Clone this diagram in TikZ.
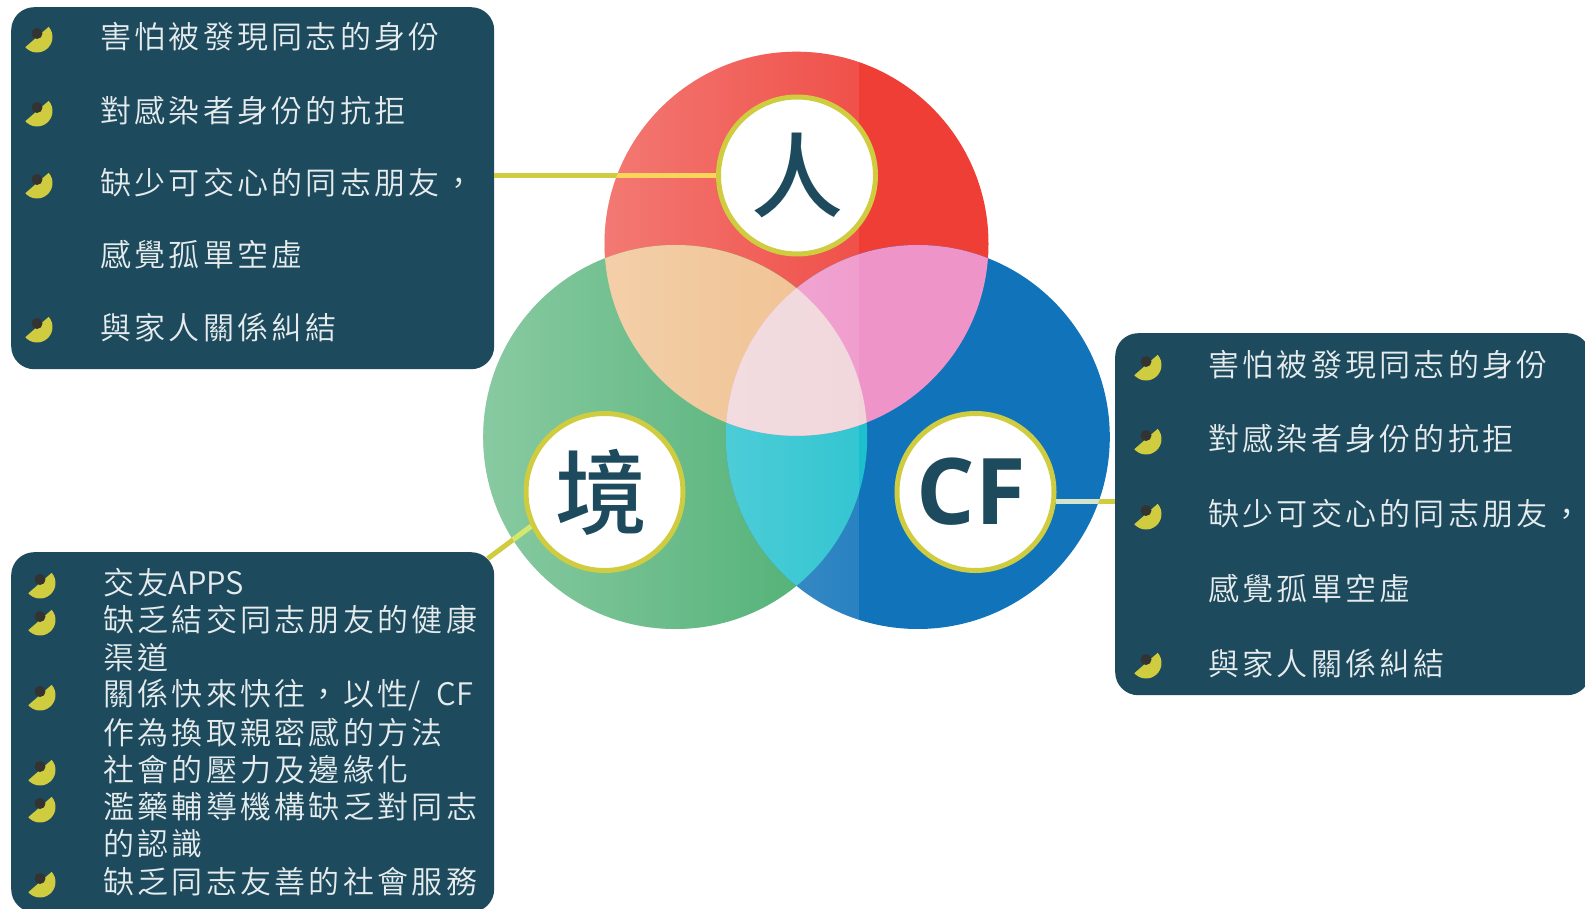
\documentclass[tikz,border=0pt]{standalone}
\usepackage{fontspec}
\usepackage{tikz}
\usetikzlibrary{fadings}
\IfFontExistsTF{Noto Sans CJK TC DemiLight}
  {\newfontfamily\cjk{Noto Sans CJK TC DemiLight}[LetterSpace=10.6]}
  {\newfontfamily\cjk{Noto Sans CJK TC}[LetterSpace=10.6]}
\IfFontExistsTF{Noto Sans CJK TC Medium}
  {\newfontfamily\cjkhub{Noto Sans CJK TC Medium}}
  {\newfontfamily\cjkhub{Noto Sans CJK TC}[FakeBold=1.5]}
\newfontfamily\latinhub{Open Sans}
\definecolor{deepteal}{HTML}{1D4A5C}
\definecolor{lemon}{HTML}{D0CC3F}
\definecolor{paper}{HTML}{E6ECEE}
\definecolor{inkdot}{HTML}{333333}
\definecolor{redbase}{HTML}{EF3E36}
\definecolor{greenbase}{RGB}{56,166,98}
\definecolor{bluebase}{HTML}{1174BB}
\definecolor{orangemix}{RGB}{239,187,131}
\definecolor{pinkmix}{RGB}{239,148,201}
\definecolor{cyanmix}{RGB}{30,192,206}
\definecolor{palemix}{RGB}{240,212,217}
\definecolor{sunny}{HTML}{F9D55B}
\definecolor{lime}{HTML}{D3E96E}
\definecolor{mist}{HTML}{D4E4CA}
\newcommand{\plain}[1]{{\addfontfeature{LetterSpace=0}#1}}

\begin{document}
\begin{tikzpicture}[
x=1pt, y=-1pt,
box/.style={fill=deepteal, rounded corners=23pt, inner sep=0pt},
item/.style={anchor=west, inner sep=0pt, text=paper,
             font=\cjk\fontsize{31}{31}\selectfont},
hub/.style={circle, draw=lemon, line width=5pt, fill=white,
            minimum size=157pt, inner sep=0pt, text=deepteal,
            font=\cjkhub\fontsize{92}{92}\selectfont},
link/.style={lemon, line width=5pt},
moon/.pic={
  \fill[lemon] (-41:15.5) arc[start angle=-41, end angle=139, radius=15.5] -- cycle;
  \fill[inkdot] (0,-3.5) circle[radius=5.5];
}]
\useasboundingbox (0,0) rectangle (1585,909);

% the three circles
\coordinate (rc) at (796.5,243.7);
\coordinate (gc) at (675.2,437);
\coordinate (bc) at (917.8,437);
\fill[redbase] (rc) circle[radius=192];
\fill[greenbase] (gc) circle[radius=192];
\fill[bluebase] (bc) circle[radius=192];
\begin{scope}
  \clip (gc) circle[radius=192];
  \fill[cyanmix] (bc) circle[radius=192];
\end{scope}
\begin{scope}
  \clip (rc) circle[radius=192];
  \fill[orangemix] (gc) circle[radius=192];
  \fill[pinkmix] (bc) circle[radius=192];
  \clip (gc) circle[radius=192];
  \fill[palemix] (bc) circle[radius=192];
\end{scope}
% light veil on the left part
\begin{scope}
  \clip (rc) circle[radius=192] (gc) circle[radius=192] (bc) circle[radius=192];
  \fill[white, fill opacity=0.1] (483,40) rectangle (859,640);
  \fill[white, fill opacity=0.34, path fading=east] (483,40) rectangle (859,640);
\end{scope}

% boxes
\node[box, anchor=north west, minimum width=483pt, minimum height=362pt] (pbox) at (11,7) {};
\node[box, anchor=north west, minimum width=475pt, minimum height=362pt] (cfbox) at (1115,333) {};
\node[box, anchor=north west, minimum width=483pt, minimum height=360pt] (envbox) at (11,552) {};

% hubs
\node[hub] (ren) at (797,175.5) {人};
\node[hub] (jing) at (604.5,492) {\kern-6pt境};
\node[hub, font=\latinhub\bfseries\fontsize{92}{92}\selectfont] (cf) at (975.5,492) {\raisebox{-4pt}{CF}\kern9pt};

% connectors
\draw[link] (ren.west) -- (ren.west -| pbox.east);
\draw[link] (jing.205) -- ([xshift=-6.7pt,yshift=-6.7pt]envbox.north east);
\draw[link] (cf.-7) -- (cf.-7 -| cfbox.west);
\begin{scope}
  \clip (rc) circle[radius=192];
  \draw[link, sunny] (ren.west) -- (ren.west -| pbox.east);
\end{scope}
\begin{scope}
  \clip (gc) circle[radius=192];
  \draw[link, lime] (jing.205) -- ([xshift=-6.7pt,yshift=-6.7pt]envbox.north east);
\end{scope}
\begin{scope}
  \clip (bc) circle[radius=192];
  \draw[link, mist] (cf.-7) -- (cf.-7 -| cfbox.west);
\end{scope}

% person
\pic at (37,37) {moon};
\node[item] (p1) at (100,37) {害怕被發現同志的身份};
\pic at (37,111) {moon};
\node[item] (p2) at (100,111) {對感染者身份的抗拒};
\pic at (37,183) {moon};
\node[item] (p3) at (100,183) {缺少可交心的同志朋友，};
\node[item] (p4) at (100,255) {感覺孤單空虛};
\pic at (37,327) {moon};
\node[item] (p5) at (100,327) {與家人關係糾結};

% CF
\pic at (1146,365) {moon};
\node[item] (c1) at (1208,365) {害怕被發現同志的身份};
\pic at (1146,439) {moon};
\node[item] (c2) at (1208,439) {對感染者身份的抗拒};
\pic at (1146,514) {moon};
\node[item] (c3) at (1208,514) {缺少可交心的同志朋友，};
\node[item] (c4) at (1208,589) {感覺孤單空虛};
\pic at (1146,663) {moon};
\node[item] (c5) at (1208,663) {與家人關係糾結};

% environment
\pic at (40,583) {moon};
\node[item] (e1) at (103,583) {交友\plain{APPS}};
\pic at (40,620) {moon};
\node[item] (e2) at (103,620) {缺乏結交同志朋友的健康};
\node[item] (e3) at (103,658) {渠道};
\pic at (40,695) {moon};
\node[item] (e4) at (103,695) {關係快來快往，以性\plain{/\hspace{16pt}CF}};
\node[item] (e5) at (103,733) {作為換取親密感的方法};
\pic at (40,770) {moon};
\node[item] (e6) at (103,770) {社會的壓力及邊緣化};
\pic at (40,807) {moon};
\node[item] (e7) at (103,807) {濫藥輔導機構缺乏對同志};
\node[item] (e8) at (103,844) {的認識};
\pic at (40,882) {moon};
\node[item] (e9) at (103,882) {缺乏同志友善的社會服務};
\end{tikzpicture}
\end{document}
